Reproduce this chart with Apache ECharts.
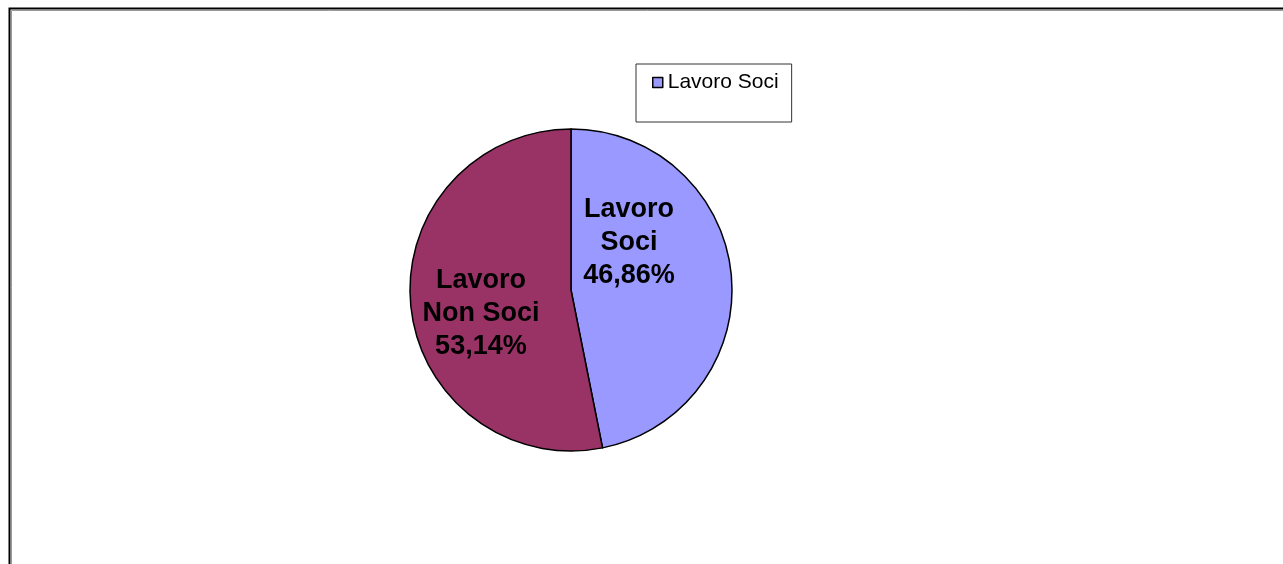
<!DOCTYPE html>
<html>
<head>
<meta charset="utf-8">
<script src="https://cdn.jsdelivr.net/npm/echarts@6/dist/echarts.min.js"></script>
<style>
html,body{margin:0;padding:0;background:#fff;}
#chart{width:1283px;height:564px;}
</style>
</head>
<body>
<div id="chart"></div>
<script>
const categories = ['Lavoro Soci', 'Lavoro Non Soci'];
const values = [46.86, 53.14];
const colors = ['#9999FF', '#993366'];
const legendItems = ['Lavoro Soci'];
// label nudges relative to default inside position [dx, dy]
const labelShift = [[-25, -39], [-7, 15]];

const total = values.reduce((a, b) => a + b, 0);
const chart = echarts.init(document.getElementById('chart'), null, {renderer: 'canvas'});
chart.setOption({
  animation: false,
  backgroundColor: '#ffffff',
  graphic: [
    {type: 'rect', shape: {x: 11.5, y: 10.5, width: 1400, height: 700}, style: {fill: 'none', stroke: '#999999', lineWidth: 1}, silent: true},
    {type: 'rect', shape: {x: 9.5, y: 8.5, width: 1400, height: 700}, style: {fill: 'none', stroke: '#000000', lineWidth: 2}, silent: true}
  ],
  legend: {
    data: legendItems,
    left: 636,
    top: 64,
    orient: 'vertical',
    backgroundColor: '#ffffff',
    borderColor: '#333333',
    borderWidth: 1,
    borderRadius: 0,
    padding: [8, 13, 29, 16],
    itemWidth: 10,
    itemHeight: 10,
    itemGap: 0,
    icon: 'rect',
    itemStyle: {borderColor: '#000000', borderWidth: 1.5},
    textStyle: {fontFamily: 'Liberation Sans, Arial, sans-serif', fontSize: 21, color: '#000000'},
    selectedMode: false
  },
  series: [{
    type: 'pie',
    center: [571, 290],
    radius: [0, 161],
    startAngle: 90,
    clockwise: true,
    silent: true,
    emphasis: {disabled: true},
    data: categories.map((c, i) => ({name: c, value: values[i], itemStyle: {color: colors[i]}})),
    itemStyle: {borderColor: '#000000', borderWidth: 1.5},
    label: {
      show: true,
      position: 'inside',
      fontFamily: 'Liberation Sans, Arial, sans-serif',
      fontWeight: 'bold',
      fontSize: 27,
      lineHeight: 33,
      color: '#000000',
      align: 'center',
      formatter: function (p) {
        const pct = (p.value / total * 100).toFixed(2).replace('.', ',');
        return p.name.replace(' ', '\n') + '\n' + pct + '%';
      }
    },
    labelLine: {show: false},
    labelLayout: function (params) {
      const s = labelShift[params.dataIndex];
      return {dx: s[0], dy: s[1]};
    }
  }]
});
</script>
</body>
</html>
